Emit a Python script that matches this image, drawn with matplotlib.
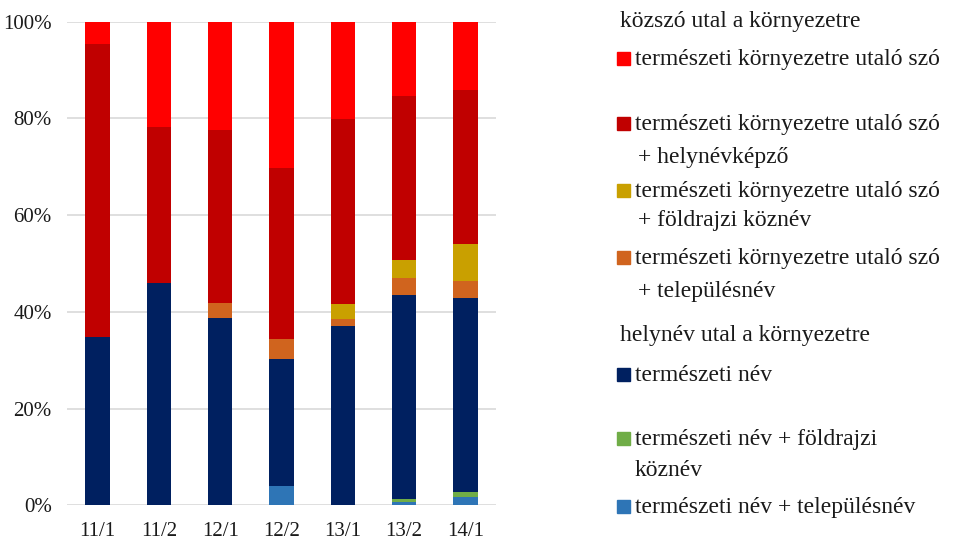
import matplotlib

matplotlib.use("Agg")
import matplotlib.pyplot as plt
import numpy as np
from matplotlib.patches import Rectangle

plt.rcParams["font.family"] = ["Liberation Serif", "DejaVu Serif"]

categories = ["11/1", "11/2", "12/1", "12/2", "13/1", "13/2", "14/1"]

# shares in %, stacked bottom -> top
tel_nev = [0, 0, 0, 4.1, 0, 0.8, 1.7]          # természeti név + településnév
nev_foldr = [0, 0, 0, 0, 0, 0.6, 1.0]          # természeti név + földrajzi köznév
term_nev = [34.9, 45.9, 38.7, 26.2, 37.1, 42.1, 40.2]
szo_tel = [0, 0, 3.2, 4.2, 1.5, 3.5, 3.5]
szo_foldr = [0, 0, 0, 0, 3.0, 3.8, 7.6]
szo_kepzo = [60.4, 32.3, 35.8, 35.2, 38.3, 33.8, 31.8]
szo = [4.7, 21.8, 22.3, 30.3, 20.1, 15.4, 14.2]

series = [
    (tel_nev, "#2E75B6"),
    (nev_foldr, "#70AD47"),
    (term_nev, "#002060"),
    (szo_tel, "#D0641E"),
    (szo_foldr, "#C9A000"),
    (szo_kepzo, "#C00000"),
    (szo, "#FF0000"),
]

fig = plt.figure(figsize=(9.56, 5.43), dpi=100)
ax = fig.add_axes([0.0701, 0.0691, 0.4487, 0.8909])

x = np.arange(len(categories))
bottom = np.zeros(len(categories))
for vals, color in series:
    v = np.array(vals) / 100
    ax.bar(x, v, bottom=bottom, width=0.4, color=color, zorder=3)
    bottom += v

ax.set_xlim(-0.5, len(categories) - 0.5)
ax.set_ylim(0, 1)
ticks = np.arange(0, 1.01, 0.2)
ax.set_yticks(ticks)
ax.set_yticklabels([f"{int(round(t * 100))}%" for t in ticks])
ax.set_xticks(x)
ax.set_xticklabels(categories)
ax.tick_params(axis="both", length=0, labelsize=15, colors="#1a1a1a")
ax.tick_params(axis="y", pad=11)
ax.tick_params(axis="x", pad=12)
ax.grid(axis="y", color="#D9D9D9", linewidth=1.2, zorder=0)
for s in ax.spines.values():
    s.set_visible(False)

# custom grouped legend, positions in pixels from the top-left
txt = "#1a1a1a"
fs = 17


def fx(px):
    return px / 956


def fy(py):
    return 1 - py / 543


def line_text(px, py, s):
    # py is the visual middle of the line; put the baseline a bit below it
    fig.text(fx(px), fy(py + 6), s, fontsize=fs, color=txt, va="baseline")


line_text(620, 21, "közszó utal a környezetre")
line_text(620, 335, "helynév utal a környezetre")

legend_items = [
    ("#FF0000", [(59, "természeti környezetre utaló szó")]),
    ("#C00000", [(124, "természeti környezetre utaló szó"), (157, "+ helynévképző")]),
    ("#C9A000", [(191, "természeti környezetre utaló szó"), (220, "+ földrajzi köznév")]),
    ("#D0641E", [(258, "természeti környezetre utaló szó"), (291, "+ településnév")]),
    ("#002060", [(375, "természeti név")]),
    ("#70AD47", [(439, "természeti név + földrajzi"), (470, "köznév")]),
    ("#2E75B6", [(507, "természeti név + településnév")]),
]
for color, lines in legend_items:
    py0 = lines[0][0]
    fig.add_artist(Rectangle((fx(617), fy(py0 + 6)), 13 / 956, 13 / 543,
                             transform=fig.transFigure, color=color))
    for i, (py, line) in enumerate(lines):
        xpos = 638 if line.startswith("+") else 635
        line_text(xpos, py, line)

fig.savefig("out.png", dpi=100)
